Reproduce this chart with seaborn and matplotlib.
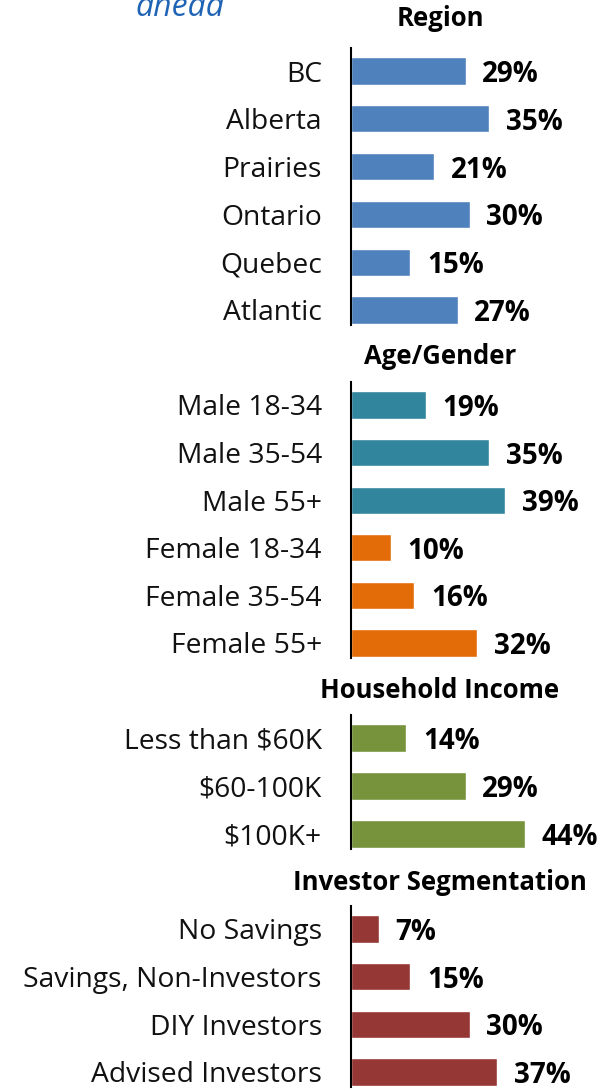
import matplotlib
matplotlib.use("Agg")
import matplotlib.pyplot as plt
import seaborn as sns
import pandas as pd

sns.set_theme(style="white")
plt.rcParams['font.family'] = ['Open Sans', 'DejaVu Sans']

# ---- data ----
region_cats = ["BC", "Alberta", "Prairies", "Ontario", "Quebec", "Atlantic"]
region_vals = [29, 35, 21, 30, 15, 27]

age_cats = ["Male 18-34", "Male 35-54", "Male 55+", "Female 18-34", "Female 35-54", "Female 55+"]
age_vals = [19, 35, 39, 10, 16, 32]

income_cats = ["Less than $60K", "$60-100K", "$100K+"]
income_vals = [14, 29, 44]

invest_cats = ["No Savings", "Savings, Non-Investors", "DIY Investors", "Advised Investors"]
invest_vals = [7, 15, 30, 37]

titles = ["Region", "Age/Gender", "Household Income", "Investor Segmentation"]

W, H = 607, 1091
fig = plt.figure(figsize=(W / 100, H / 100), dpi=100)

blue = "#4F81BD"; teal = "#31859C"; orange = "#E36C09"; green = "#77933C"; red = "#953735"
panels = [
    (region_cats, region_vals, [blue] * 6, 71, 310, 18),
    (age_cats, age_vals, [teal] * 3 + [orange] * 3, 405, 643, 357),
    (income_cats, income_vals, [green] * 3, 738, 834, 691),
    (invest_cats, invest_vals, [red] * 4, 929, 1072, 882),
]

left_px = 351
xmax = 50
px_per = 3.95
width_px = xmax * px_per

for (cats, vals, cols, c0, c1, ty), title in zip(panels, titles):
    n = len(cats)
    sp = (c1 - c0) / (n - 1)
    top_px = c0 - 0.48 * sp
    bot_px = c1 + 0.31 * sp
    ax = fig.add_axes([left_px / W, 1 - bot_px / H, width_px / W, (bot_px - top_px) / H])
    df = pd.DataFrame({"cat": cats, "val": vals})
    sns.barplot(data=df, x="val", y="cat", hue="cat", palette=cols, legend=False,
                width=0.57, ax=ax, saturation=1)
    ax.set_xlim(0, xmax)
    ax.set_ylim(n - 1 + 0.31, -0.48)
    ax.set_xlabel(""); ax.set_ylabel("")
    ax.set_xticks([])
    for s in ["top", "right", "bottom"]:
        ax.spines[s].set_visible(False)
    ax.spines["left"].set_color("black")
    ax.spines["left"].set_linewidth(1.5)
    ax.tick_params(axis="y", length=0, pad=21, labelsize=20.3, labelcolor="#111111")
    for i, v in enumerate(vals):
        ax.annotate(f"{v}%", xy=(v, i), xytext=(12, -2.5), textcoords="offset points",
                    ha="left", va="center", fontsize=20, fontweight="bold", color="black")
    ax.patch.set_alpha(0)
    fig.text(440 / W, 1 - ty / H, title, ha="center", va="center",
             fontsize=18.5, fontweight="bold", color="black")

fig.text(180 / W, 1 - 16 / H, "ahead", ha="center", va="baseline",
         fontsize=23, style="italic", color="#1F63B5")

fig.savefig("out.png", dpi=100)
